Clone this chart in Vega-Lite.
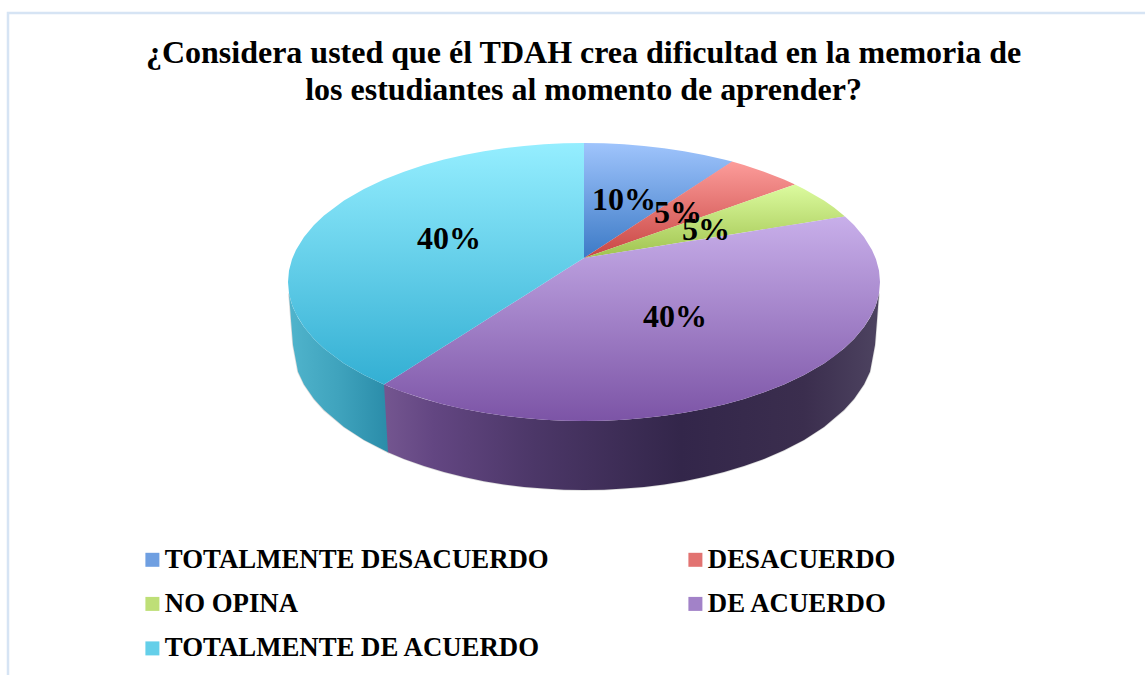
{
"$schema":"https://vega.github.io/schema/vega-lite/v6.json",
"width":1145,"height":675,"padding":0,"autosize":{"type":"none"},"background":"white",
"config":{"view":{"stroke":null},"font":"Liberation Serif"},
"title":{"text":["¿Considera usted que él TDAH crea dificultad en la memoria de","los estudiantes al momento de aprender?"],"font":"Liberation Serif","fontSize":32,"fontWeight":"bold","color":"#000000","anchor":"middle","frame":"group","offset":-107,"dx":11,"lineHeight":37},
"datasets":{
"frame":[{"seq":1,"x":8,"y":675},{"seq":2,"x":8,"y":13},{"seq":3,"x":1145,"y":13}],
"walls":[
{"slice":"TOTALMENTE DE ACUERDO","x":289,"top":293.4,"bottom":293.4},{"slice":"TOTALMENTE DE ACUERDO","x":291,"top":301.8,"bottom":320},{"slice":"TOTALMENTE DE ACUERDO","x":293,"top":307.4,"bottom":345},{"slice":"TOTALMENTE DE ACUERDO","x":298,"top":317.8,"bottom":371.8},{"slice":"TOTALMENTE DE ACUERDO","x":304,"top":327.1,"bottom":384.5},{"slice":"TOTALMENTE DE ACUERDO","x":314,"top":339,"bottom":399.1},{"slice":"TOTALMENTE DE ACUERDO","x":324,"top":348.5,"bottom":410.1},{"slice":"TOTALMENTE DE ACUERDO","x":344,"top":363.4,"bottom":427},{"slice":"TOTALMENTE DE ACUERDO","x":364,"top":375,"bottom":439.9},{"slice":"TOTALMENTE DE ACUERDO","x":384,"top":384.5,"bottom":450.3},{"slice":"TOTALMENTE DE ACUERDO","x":388,"top":386.2,"bottom":452.2},
{"slice":"DE ACUERDO","x":384,"top":384.5,"bottom":384.5},{"slice":"DE ACUERDO","x":388,"top":386.2,"bottom":452.2},{"slice":"DE ACUERDO","x":404,"top":392.3,"bottom":458.9},{"slice":"DE ACUERDO","x":424,"top":398.9,"bottom":466.1},{"slice":"DE ACUERDO","x":444,"top":404.5,"bottom":472.1},{"slice":"DE ACUERDO","x":464,"top":409.1,"bottom":477.1},{"slice":"DE ACUERDO","x":484,"top":412.8,"bottom":481.2},{"slice":"DE ACUERDO","x":504,"top":415.8,"bottom":484.4},{"slice":"DE ACUERDO","x":524,"top":418.1,"bottom":486.9},{"slice":"DE ACUERDO","x":544,"top":419.7,"bottom":488.6},{"slice":"DE ACUERDO","x":564,"top":420.7,"bottom":489.7},{"slice":"DE ACUERDO","x":584,"top":421,"bottom":490},{"slice":"DE ACUERDO","x":604,"top":420.7,"bottom":489.7},{"slice":"DE ACUERDO","x":624,"top":419.7,"bottom":488.6},{"slice":"DE ACUERDO","x":644,"top":418.1,"bottom":486.9},{"slice":"DE ACUERDO","x":664,"top":415.8,"bottom":484.4},{"slice":"DE ACUERDO","x":684,"top":412.8,"bottom":481.2},{"slice":"DE ACUERDO","x":704,"top":409.1,"bottom":477.1},{"slice":"DE ACUERDO","x":724,"top":404.5,"bottom":472.1},{"slice":"DE ACUERDO","x":744,"top":398.9,"bottom":466.1},{"slice":"DE ACUERDO","x":764,"top":392.3,"bottom":458.9},{"slice":"DE ACUERDO","x":784,"top":384.5,"bottom":450.3},{"slice":"DE ACUERDO","x":804,"top":375,"bottom":439.9},{"slice":"DE ACUERDO","x":824,"top":363.4,"bottom":427},{"slice":"DE ACUERDO","x":844,"top":348.5,"bottom":410.1},{"slice":"DE ACUERDO","x":854,"top":339,"bottom":399.1},{"slice":"DE ACUERDO","x":864,"top":327.1,"bottom":384.5},{"slice":"DE ACUERDO","x":870,"top":317.8,"bottom":371.8},{"slice":"DE ACUERDO","x":875,"top":307.4,"bottom":345},{"slice":"DE ACUERDO","x":877,"top":301.8,"bottom":320},{"slice":"DE ACUERDO","x":879,"top":293.4,"bottom":293.4}
],
"slices":[
{"slice":"TOTALMENTE DESACUERDO","x":584,"top":143,"bottom":258},{"slice":"TOTALMENTE DESACUERDO","x":604,"top":143.3,"bottom":245},{"slice":"TOTALMENTE DESACUERDO","x":624,"top":144.3,"bottom":232},{"slice":"TOTALMENTE DESACUERDO","x":644,"top":145.9,"bottom":219.1},{"slice":"TOTALMENTE DESACUERDO","x":664,"top":148.2,"bottom":206.1},{"slice":"TOTALMENTE DESACUERDO","x":684,"top":151.2,"bottom":193.1},{"slice":"TOTALMENTE DESACUERDO","x":704,"top":154.9,"bottom":180.2},{"slice":"TOTALMENTE DESACUERDO","x":724,"top":159.5,"bottom":167.2},{"slice":"TOTALMENTE DESACUERDO","x":732,"top":161.6,"bottom":162},
{"slice":"DESACUERDO","x":584,"top":258,"bottom":258},{"slice":"DESACUERDO","x":732,"top":161.6,"bottom":206.5},{"slice":"DESACUERDO","x":744,"top":165.1,"bottom":202.3},{"slice":"DESACUERDO","x":764,"top":171.7,"bottom":195.3},{"slice":"DESACUERDO","x":784,"top":179.5,"bottom":188.3},{"slice":"DESACUERDO","x":795,"top":184.5,"bottom":184.5},
{"slice":"NO OPINA","x":584,"top":258,"bottom":258},{"slice":"NO OPINA","x":795,"top":184.5,"bottom":224.4},{"slice":"NO OPINA","x":804,"top":189,"bottom":222.9},{"slice":"NO OPINA","x":824,"top":200.6,"bottom":219.7},{"slice":"NO OPINA","x":834,"top":207.6,"bottom":218.2},{"slice":"NO OPINA","x":845,"top":216.4,"bottom":216.4},
{"slice":"DE ACUERDO","x":384,"top":384.5,"bottom":384.5},{"slice":"DE ACUERDO","x":400,"top":374.4,"bottom":391},{"slice":"DE ACUERDO","x":420,"top":361.8,"bottom":397.6},{"slice":"DE ACUERDO","x":440,"top":349.1,"bottom":403.5},{"slice":"DE ACUERDO","x":460,"top":336.4,"bottom":408.2},{"slice":"DE ACUERDO","x":484,"top":321.2,"bottom":412.8},{"slice":"DE ACUERDO","x":504,"top":308.6,"bottom":415.8},{"slice":"DE ACUERDO","x":524,"top":295.9,"bottom":418.1},{"slice":"DE ACUERDO","x":544,"top":283.3,"bottom":419.7},{"slice":"DE ACUERDO","x":564,"top":270.6,"bottom":420.7},{"slice":"DE ACUERDO","x":584,"top":258,"bottom":421},{"slice":"DE ACUERDO","x":604,"top":254.8,"bottom":420.7},{"slice":"DE ACUERDO","x":624,"top":251.6,"bottom":419.7},{"slice":"DE ACUERDO","x":644,"top":248.4,"bottom":418.1},{"slice":"DE ACUERDO","x":664,"top":245.2,"bottom":415.8},{"slice":"DE ACUERDO","x":684,"top":242.1,"bottom":412.8},{"slice":"DE ACUERDO","x":704,"top":238.9,"bottom":409.1},{"slice":"DE ACUERDO","x":724,"top":235.7,"bottom":404.5},{"slice":"DE ACUERDO","x":744,"top":232.5,"bottom":398.9},{"slice":"DE ACUERDO","x":764,"top":229.3,"bottom":392.3},{"slice":"DE ACUERDO","x":784,"top":226.1,"bottom":384.5},{"slice":"DE ACUERDO","x":804,"top":222.9,"bottom":375},{"slice":"DE ACUERDO","x":824,"top":219.7,"bottom":363.4},{"slice":"DE ACUERDO","x":834,"top":218.1,"bottom":356.4},{"slice":"DE ACUERDO","x":845,"top":216.4,"bottom":347.6},{"slice":"DE ACUERDO","x":854,"top":225,"bottom":339},{"slice":"DE ACUERDO","x":864,"top":236.9,"bottom":327.1},{"slice":"DE ACUERDO","x":872,"top":249.9,"bottom":314.1},{"slice":"DE ACUERDO","x":876,"top":259.2,"bottom":304.8},{"slice":"DE ACUERDO","x":879,"top":270.6,"bottom":293.4},{"slice":"DE ACUERDO","x":880,"top":282,"bottom":282},
{"slice":"TOTALMENTE DE ACUERDO","x":288,"top":282,"bottom":282},{"slice":"TOTALMENTE DE ACUERDO","x":289,"top":270.6,"bottom":293.4},{"slice":"TOTALMENTE DE ACUERDO","x":292,"top":259.2,"bottom":304.8},{"slice":"TOTALMENTE DE ACUERDO","x":296,"top":249.9,"bottom":314.1},{"slice":"TOTALMENTE DE ACUERDO","x":304,"top":236.9,"bottom":327.1},{"slice":"TOTALMENTE DE ACUERDO","x":314,"top":225,"bottom":339},{"slice":"TOTALMENTE DE ACUERDO","x":324,"top":215.5,"bottom":348.5},{"slice":"TOTALMENTE DE ACUERDO","x":344,"top":200.6,"bottom":363.4},{"slice":"TOTALMENTE DE ACUERDO","x":364,"top":189,"bottom":375},{"slice":"TOTALMENTE DE ACUERDO","x":384,"top":179.5,"bottom":384.5},{"slice":"TOTALMENTE DE ACUERDO","x":404,"top":171.7,"bottom":371.9},{"slice":"TOTALMENTE DE ACUERDO","x":424,"top":165.1,"bottom":359.3},{"slice":"TOTALMENTE DE ACUERDO","x":444,"top":159.5,"bottom":346.6},{"slice":"TOTALMENTE DE ACUERDO","x":464,"top":154.9,"bottom":333.9},{"slice":"TOTALMENTE DE ACUERDO","x":484,"top":151.2,"bottom":321.2},{"slice":"TOTALMENTE DE ACUERDO","x":504,"top":148.2,"bottom":308.6},{"slice":"TOTALMENTE DE ACUERDO","x":524,"top":145.9,"bottom":295.9},{"slice":"TOTALMENTE DE ACUERDO","x":544,"top":144.3,"bottom":283.3},{"slice":"TOTALMENTE DE ACUERDO","x":564,"top":143.3,"bottom":270.6},{"slice":"TOTALMENTE DE ACUERDO","x":584,"top":143,"bottom":258}
],
"labels":[
{"slice":"TOTALMENTE DESACUERDO","pct":0.1,"x":624,"y":200},
{"slice":"DESACUERDO","pct":0.05,"x":678,"y":213},
{"slice":"NO OPINA","pct":0.05,"x":706,"y":230},
{"slice":"DE ACUERDO","pct":0.4,"x":675,"y":317},
{"slice":"TOTALMENTE DE ACUERDO","pct":0.4,"x":449,"y":239}
]
},
"encoding":{
 "x":{"field":"x","type":"quantitative","scale":{"domain":[0,1145]},"axis":null}
},
"layer":[
{"data":{"name":"frame"},"mark":{"type":"line","color":"#d6e4f4","strokeWidth":2.5},
 "encoding":{"y":{"field":"y","type":"quantitative","scale":{"domain":[675,0]},"axis":null},"order":{"field":"seq"}}},
{"data":{"name":"walls"},"mark":{"type":"area","color":"#8a8a8a","opacity":0.55,"yOffset":3,"stroke":"#bdbdbd","strokeWidth":1.5},
 "encoding":{"detail":{"field":"slice"},"y":{"field":"top","type":"quantitative","stack":null,"scale":{"domain":[675,0]},"axis":null},"y2":{"field":"bottom"}}},
{"data":{"name":"walls"},"transform":[{"filter":"datum.slice==='TOTALMENTE DE ACUERDO'"}],
 "mark":{"type":"area","color":{"gradient":"linear","x1":0,"y1":0,"x2":1,"y2":0,"stops":[{"offset":0,"color":"#50b4cc"},{"offset":0.5,"color":"#3fa3bd"},{"offset":1,"color":"#2a8ca9"}]}},
 "encoding":{"y":{"field":"top","type":"quantitative","stack":null,"scale":{"domain":[675,0]},"axis":null},"y2":{"field":"bottom"}}},
{"data":{"name":"walls"},"transform":[{"filter":"datum.slice==='DE ACUERDO'"}],
 "mark":{"type":"area","color":{"gradient":"linear","x1":0,"y1":0,"x2":1,"y2":0,"stops":[{"offset":0,"color":"#745690"},{"offset":0.1,"color":"#634682"},{"offset":0.3,"color":"#4c3768"},{"offset":0.6,"color":"#33264a"},{"offset":0.85,"color":"#3b2e4e"},{"offset":1,"color":"#4d4360"}]}},
 "encoding":{"y":{"field":"top","type":"quantitative","stack":null,"scale":{"domain":[675,0]},"axis":null},"y2":{"field":"bottom"}}},
{"data":{"name":"slices"},"transform":[{"filter":"datum.slice==='TOTALMENTE DESACUERDO'"}],"mark":{"type":"area","color":{"gradient":"linear","x1":0,"y1":0,"x2":0,"y2":1,"stops":[{"offset":0,"color":"#9fc4fc"},{"offset":1,"color":"#3c7ac6"}]}},
 "encoding":{"y":{"field":"top","type":"quantitative","stack":null,"scale":{"domain":[675,0]},"axis":null},"y2":{"field":"bottom"}}},
{"data":{"name":"slices"},"transform":[{"filter":"datum.slice==='DESACUERDO'"}],"mark":{"type":"area","color":{"gradient":"linear","x1":0,"y1":0,"x2":0,"y2":1,"stops":[{"offset":0,"color":"#fc9c9a"},{"offset":1,"color":"#c84643"}]}},
 "encoding":{"y":{"field":"top","type":"quantitative","stack":null,"scale":{"domain":[675,0]},"axis":null},"y2":{"field":"bottom"}}},
{"data":{"name":"slices"},"transform":[{"filter":"datum.slice==='NO OPINA'"}],"mark":{"type":"area","color":{"gradient":"linear","x1":0,"y1":0,"x2":0,"y2":1,"stops":[{"offset":0,"color":"#dcfb9f"},{"offset":1,"color":"#a0c34f"}]}},
 "encoding":{"y":{"field":"top","type":"quantitative","stack":null,"scale":{"domain":[675,0]},"axis":null},"y2":{"field":"bottom"}}},
{"data":{"name":"slices"},"transform":[{"filter":"datum.slice==='DE ACUERDO'"}],"mark":{"type":"area","color":{"gradient":"linear","x1":0,"y1":0,"x2":0,"y2":1,"stops":[{"offset":0,"color":"#c8afea"},{"offset":1,"color":"#7c54a6"}]}},
 "encoding":{"y":{"field":"top","type":"quantitative","stack":null,"scale":{"domain":[675,0]},"axis":null},"y2":{"field":"bottom"}}},
{"data":{"name":"slices"},"transform":[{"filter":"datum.slice==='TOTALMENTE DE ACUERDO'"}],"mark":{"type":"area","color":{"gradient":"linear","x1":0,"y1":0,"x2":0,"y2":1,"stops":[{"offset":0,"color":"#95eeff"},{"offset":1,"color":"#33afd3"}]}},
 "encoding":{"y":{"field":"top","type":"quantitative","stack":null,"scale":{"domain":[675,0]},"axis":null},"y2":{"field":"bottom"}}},
{"data":{"name":"labels"},"mark":{"type":"point","size":0,"filled":true},
 "encoding":{"y":{"field":"y","type":"quantitative","scale":{"domain":[675,0]},"axis":null},
  "color":{"field":"slice","type":"nominal",
   "scale":{"domain":["TOTALMENTE DESACUERDO","DESACUERDO","NO OPINA","DE ACUERDO","TOTALMENTE DE ACUERDO"],"range":["#6f9fe1","#e27371","#bedf77","#a282c8","#64cfe9"]},
   "legend":{"title":null,"orient":"none","legendX":139,"legendY":546,"columns":2,"direction":"horizontal","symbolType":"square","symbolSize":196,"symbolStrokeWidth":0,"symbolOpacity":1,"labelFont":"Liberation Serif","labelFontSize":26.8,"labelFontWeight":"bold","labelColor":"#000000","labelOffset":-1,"columnPadding":133,"rowPadding":16.5,"labelLimit":600}
  }}},
{"data":{"name":"labels"},"mark":{"type":"text","font":"Liberation Serif","fontSize":32,"fontWeight":"bold","color":"#000000","align":"center","baseline":"middle"},
 "encoding":{"y":{"field":"y","type":"quantitative","scale":{"domain":[675,0]},"axis":null},"text":{"field":"pct","type":"quantitative","format":".0%"}}}
]
}
